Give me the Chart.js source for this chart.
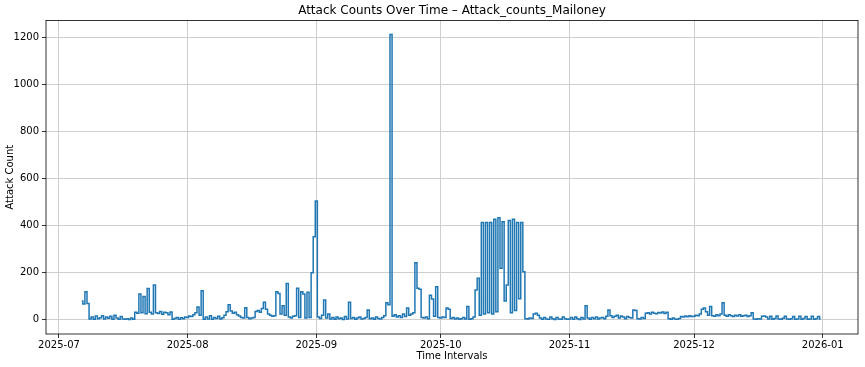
<!DOCTYPE html>
<html>
<head>
<meta charset="utf-8">
<script src="https://cdn.jsdelivr.net/npm/chart.js@4.4.1/dist/chart.umd.min.js"></script>
<style>
  html, body { margin: 0; padding: 0; background: #fff; }
  #wrap { width: 865px; height: 367px; }
</style>
</head>
<body>
<div id="wrap"><canvas id="attackChart" width="865" height="367"></canvas></div>
<script>
(function () {
  // one value every 12 hours, each month starts at its own timestamp
  const monthStarts = [
    '2025-07-06T12:00:00Z', '2025-08-01T00:00:00Z', '2025-09-01T00:00:00Z',
    '2025-10-01T00:00:00Z', '2025-11-01T00:00:00Z', '2025-12-01T00:00:00Z'
  ];

  const julyCounts = [
    80,
    68, 120, 70, 4, 12, 3, 16, 5, 9, 18,
    4, 12, 7, 15, 3, 20, 8, 3, 14, 4,
    3, 5, 2, 8, 3, 32, 28, 110, 30, 99,
    26, 133, 32, 25, 148, 30, 27, 36, 24, 32,
    30, 22, 33, 3, 6, 10, 3, 9, 5, 12
  ];

  const augustCounts = [
    10, 16, 14, 22, 30, 55, 20, 124, 3, 12,
    4, 18, 3, 10, 6, 15, 4, 9, 20, 35,
    64, 38, 28, 32, 22, 16, 10, 8, 52, 10,
    5, 8, 10, 36, 40, 32, 48, 75, 45, 25,
    20, 15, 18, 120, 112, 25, 60, 20, 155, 12,
    8, 15, 18, 134, 10, 120, 110, 8, 117, 10,
    200, 353
  ];

  const septemberCounts = [
    505, 12, 6, 20, 85, 8, 25, 4, 10, 3,
    12, 5, 8, 2, 14, 4, 75, 6, 10, 3,
    8, 12, 4, 6, 10, 42, 5, 8, 3, 12,
    6, 4, 10, 18, 73, 64, 1213, 15, 22, 12,
    18, 10, 25, 14, 50, 20, 25, 30, 243, 134,
    130, 10, 8, 12, 5, 105, 89, 15, 141, 10
  ];

  const octoberCounts = [
    8, 12, 10, 50, 45, 6, 10, 4, 8, 3,
    5, 10, 4, 57, 3, 5, 12, 127, 177, 20,
    414, 25, 414, 30, 414, 25, 428, 35, 434, 219,
    417, 80, 148, 422, 30, 428, 40, 414, 90, 414,
    205, 5, 4, 8, 6, 25, 28, 20, 8, 3,
    10, 4, 3, 12, 5, 2, 10, 4, 3, 12,
    5, 3
  ];

  const novemberCounts = [
    4, 10, 3, 12, 5, 2, 10, 4, 60, 8,
    3, 10, 5, 12, 4, 8, 10, 5, 15, 42,
    18, 10, 15, 20, 8, 16, 12, 5, 14, 10,
    8, 42, 40, 5, 4, 10, 6, 28, 30, 25,
    32, 28, 26, 31, 29, 34, 27, 32, 5, 3,
    8, 4, 3, 6, 14, 12, 16, 13, 18, 14
  ];

  const decemberCounts = [
    15, 20, 18, 25, 45, 50, 35, 20, 57, 18,
    15, 22, 18, 25, 73, 20, 15, 22, 18, 14,
    20, 16, 22, 15, 18, 20, 14, 18, 30, 4,
    3, 5, 4, 15, 16, 12, 4, 15, 3, 6,
    16, 4, 3, 7, 15, 4, 3, 5, 14, 3,
    4, 15, 3, 6, 14, 3, 4, 15, 3, 5,
    14, 4
  ];

  const monthCounts = [julyCounts, augustCounts, septemberCounts, octoberCounts, novemberCounts, decemberCounts];

  const tickDates = ['2025-07-01', '2025-08-01', '2025-09-01', '2025-10-01', '2025-11-01', '2025-12-01', '2026-01-01'];
  const tickLabels = ['2025-07', '2025-08', '2025-09', '2025-10', '2025-11', '2025-12', '2026-01'];
  const yTicks = [0, 200, 400, 600, 800, 1000, 1200];

  const HALF_DAY = 12 * 3600 * 1000;
  const points = [];
  monthCounts.forEach((counts, m) => {
    const t0 = Date.parse(monthStarts[m]);
    counts.forEach((v, i) => points.push({ x: t0 + i * HALF_DAY, y: v }));
  });

  const font = { family: 'DejaVu Sans', size: 10 };
  const gridColor = '#cfcfcf';

  const framePlugin = {
    id: 'frame',
    afterDraw(chart) {
      const a = chart.chartArea;
      const ctx = chart.ctx;
      ctx.save();
      ctx.strokeStyle = '#000';
      ctx.lineWidth = 0.8;
      ctx.strokeRect(a.left, a.top, a.right - a.left, a.bottom - a.top);
      ctx.restore();
    }
  };

  new Chart(document.getElementById('attackChart'), {
    type: 'line',
    data: {
      datasets: [{
        data: points,
        borderColor: '#1f77b4',
        borderWidth: 1.5,
        pointRadius: 0,
        stepped: 'middle',
        fill: false
      }]
    },
    options: {
      responsive: false,
      animation: false,
      layout: { padding: { left: 0, right: 7, top: 0, bottom: 0 } },
      plugins: {
        legend: { display: false },
        tooltip: { enabled: false },
        title: {
          display: true,
          text: 'Attack Counts Over Time – Attack_counts_Mailoney',
          color: '#000',
          fullSize: false,
          font: { family: 'DejaVu Sans', size: 12, weight: 'normal' },
          padding: { top: 4, bottom: 2 }
        }
      },
      scales: {
        x: {
          type: 'linear',
          min: Date.parse('2025-06-27T21:00:00Z'),
          max: Date.parse('2026-01-09T12:00:00Z'),
          afterBuildTicks: (s) => { s.ticks = tickDates.map((d) => ({ value: Date.parse(d + 'T00:00:00Z') })); },
          afterFit: (s) => { s.height = 33; },
          border: { display: false },
          grid: { color: gridColor, lineWidth: 1, tickColor: '#000', tickLength: 4, tickWidth: 0.8 },
          ticks: {
            autoSkip: false, maxRotation: 0, color: '#000', font, padding: 1,
            callback: (v, i) => tickLabels[i]
          },
          title: { display: true, text: 'Time Intervals', color: '#000', font, padding: { top: 0, bottom: 5 } }
        },
        y: {
          min: -60,
          max: 1273,
          afterBuildTicks: (s) => { s.ticks = yTicks.map((v) => ({ value: v })); },
          afterFit: (s) => { s.width = 46; },
          border: { display: false },
          grid: { color: gridColor, lineWidth: 1, tickColor: '#000', tickLength: 4, tickWidth: 0.8 },
          ticks: { color: '#000', font, padding: 3, callback: (v) => String(v) },
          title: { display: true, text: 'Attack Count', color: '#000', font, padding: { top: 4, bottom: 0 } }
        }
      }
    },
    plugins: [framePlugin]
  });
})();
</script>
</body>
</html>
